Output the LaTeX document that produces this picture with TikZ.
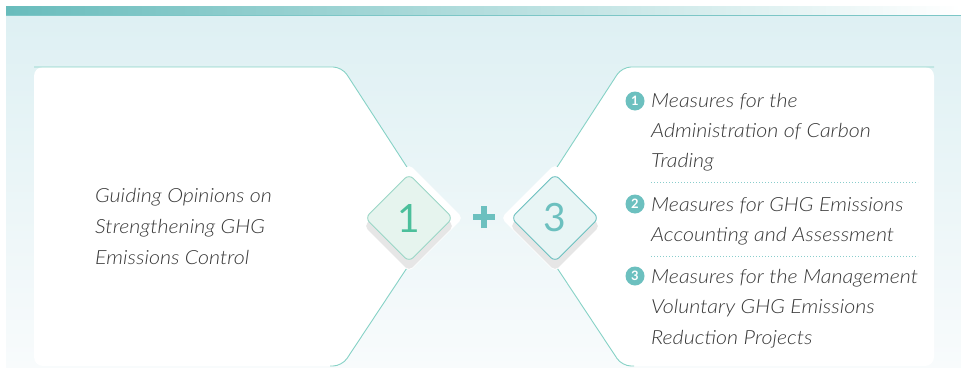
\documentclass[tikz,border=0pt]{standalone}
\usepackage{fontspec}
\setmainfont{Lato}[ItalicFont={Lato Light Italic}, ItalicFeatures={FakeStretch=1.1}]
\usetikzlibrary{shapes.geometric}
\definecolor{teal1}{HTML}{6CC0BF}
\definecolor{barL}{HTML}{68BCBC}
\definecolor{barline}{HTML}{7CC6C6}
\definecolor{bgtop}{HTML}{DEF0F3}
\definecolor{bgbot}{HTML}{F8FBFC}
\definecolor{pline}{HTML}{86D2C6}
\definecolor{txt}{HTML}{383838}
\definecolor{dAfill}{HTML}{E6F4EE}
\definecolor{dAline}{HTML}{9AD6C6}
\definecolor{dAtext}{HTML}{4CBF9B}
\definecolor{dBfill}{HTML}{E8F5F5}
\definecolor{shadowc}{HTML}{E6E6E6}
\tikzset{
  panelline/.style={draw=pline, line width=0.9pt, rounded corners=9pt},
  dia/.style={diamond, aspect=1, inner sep=0pt, minimum width=88pt, minimum height=88pt, rounded corners=6pt, line width=0.9pt, font=\fontsize{39}{39}\selectfont},
  backdia/.style={diamond, aspect=1, inner sep=0pt, minimum width=108pt, minimum height=108pt, rounded corners=5pt, fill=white},
  shadowdia/.style={diamond, aspect=1, inner sep=0pt, minimum width=90pt, minimum height=90pt, rounded corners=5pt, fill=shadowc},
  itemline/.style={anchor=base west, inner sep=0pt, text=txt, font=\fontsize{19.5}{24}\selectfont\itshape},
  bullet/.style={circle, fill=teal1, inner sep=0pt, minimum size=19pt, text=white, font=\fontsize{13}{13}\selectfont\bfseries},
  sepline/.style={teal1!80, line width=1pt, dash pattern=on 1pt off 2pt},
  plusbar/.style={teal1, line width=6pt},
}
\begin{document}
\begin{tikzpicture}[x=1pt,y=-1pt]
\useasboundingbox (0,0) rectangle (961,367);
\fill[white] (0,0) rectangle (961,367);
% background
\shade[top color=bgtop, bottom color=bgbot] (6,16) rectangle (961,367);
\shade[left color=barL, right color=white] (6,6) rectangle (961,15);
\draw[barline, line width=1.2pt] (6,15.4) -- (961,15.4);
% left panel
\fill[white, rounded corners=9pt] (34,366) -- (34,67) -- (342,67) -- (440,218) -- (342,366) -- cycle;
\draw[panelline] (34,67) -- (342,67) -- (440,218) -- (342,366) -- (330,366);
% right panel
\fill[white, rounded corners=9pt] (934,366) -- (934,67) -- (622,67) -- (524,218) -- (622,366) -- cycle;
\draw[panelline] (934,67) -- (622,67) -- (524,218) -- (622,366) -- (634,366);
% diamonds
\node[backdia] (bA) at (409,218) {};
\node[backdia] (bB) at (555,218) {};
\node[shadowdia] (sA) at (409,226) {};
\node[shadowdia] (sB) at (555,226) {};
\node[dia, draw=dAline, fill=dAfill, text=dAtext] (dA) at (409,218) {1};
\node[dia, draw=teal1, fill=dBfill, text=teal1] (dB) at (555,218) {3};
% plus sign
\coordinate (plus) at (484,217);
\draw[plusbar] ([xshift=-11pt]plus) -- ([xshift=11pt]plus);
\draw[plusbar] ([yshift=-11pt]plus) -- ([yshift=11pt]plus);
% left text
\node[itemline] (l1) at (95,202) {Guiding Opinions on};
\node[itemline] (l2) at (95,233) {Strengthening GHG};
\node[itemline] (l3) at (95,264) {Emissions Control};
% right items
\node[bullet] (n1) at (635,101) {1};
\node[itemline] (a1) at (651,107) {Measures for the};
\node[itemline] (a2) at (651,137) {Administration of Carbon};
\node[itemline] (a3) at (651,167) {Trading};
\coordinate (s1a) at (651,182);
\coordinate (s1b) at (918,182);
\draw[sepline] (s1a) -- (s1b);
\node[bullet] (n2) at (635,204) {2};
\node[itemline] (b1) at (651,211) {Measures for GHG Emissions};
\node[itemline] (b2) at (651,241) {Accounting and Assessment};
\coordinate (s2a) at (651,256);
\coordinate (s2b) at (918,256);
\draw[sepline] (s2a) -- (s2b);
\node[bullet] (n3) at (635,276) {3};
\node[itemline] (c1) at (651,283) {Measures for the Management};
\node[itemline] (c2) at (651,313) {Voluntary GHG Emissions};
\node[itemline] (c3) at (651,344) {Reduction Projects};
\end{tikzpicture}
\end{document}
